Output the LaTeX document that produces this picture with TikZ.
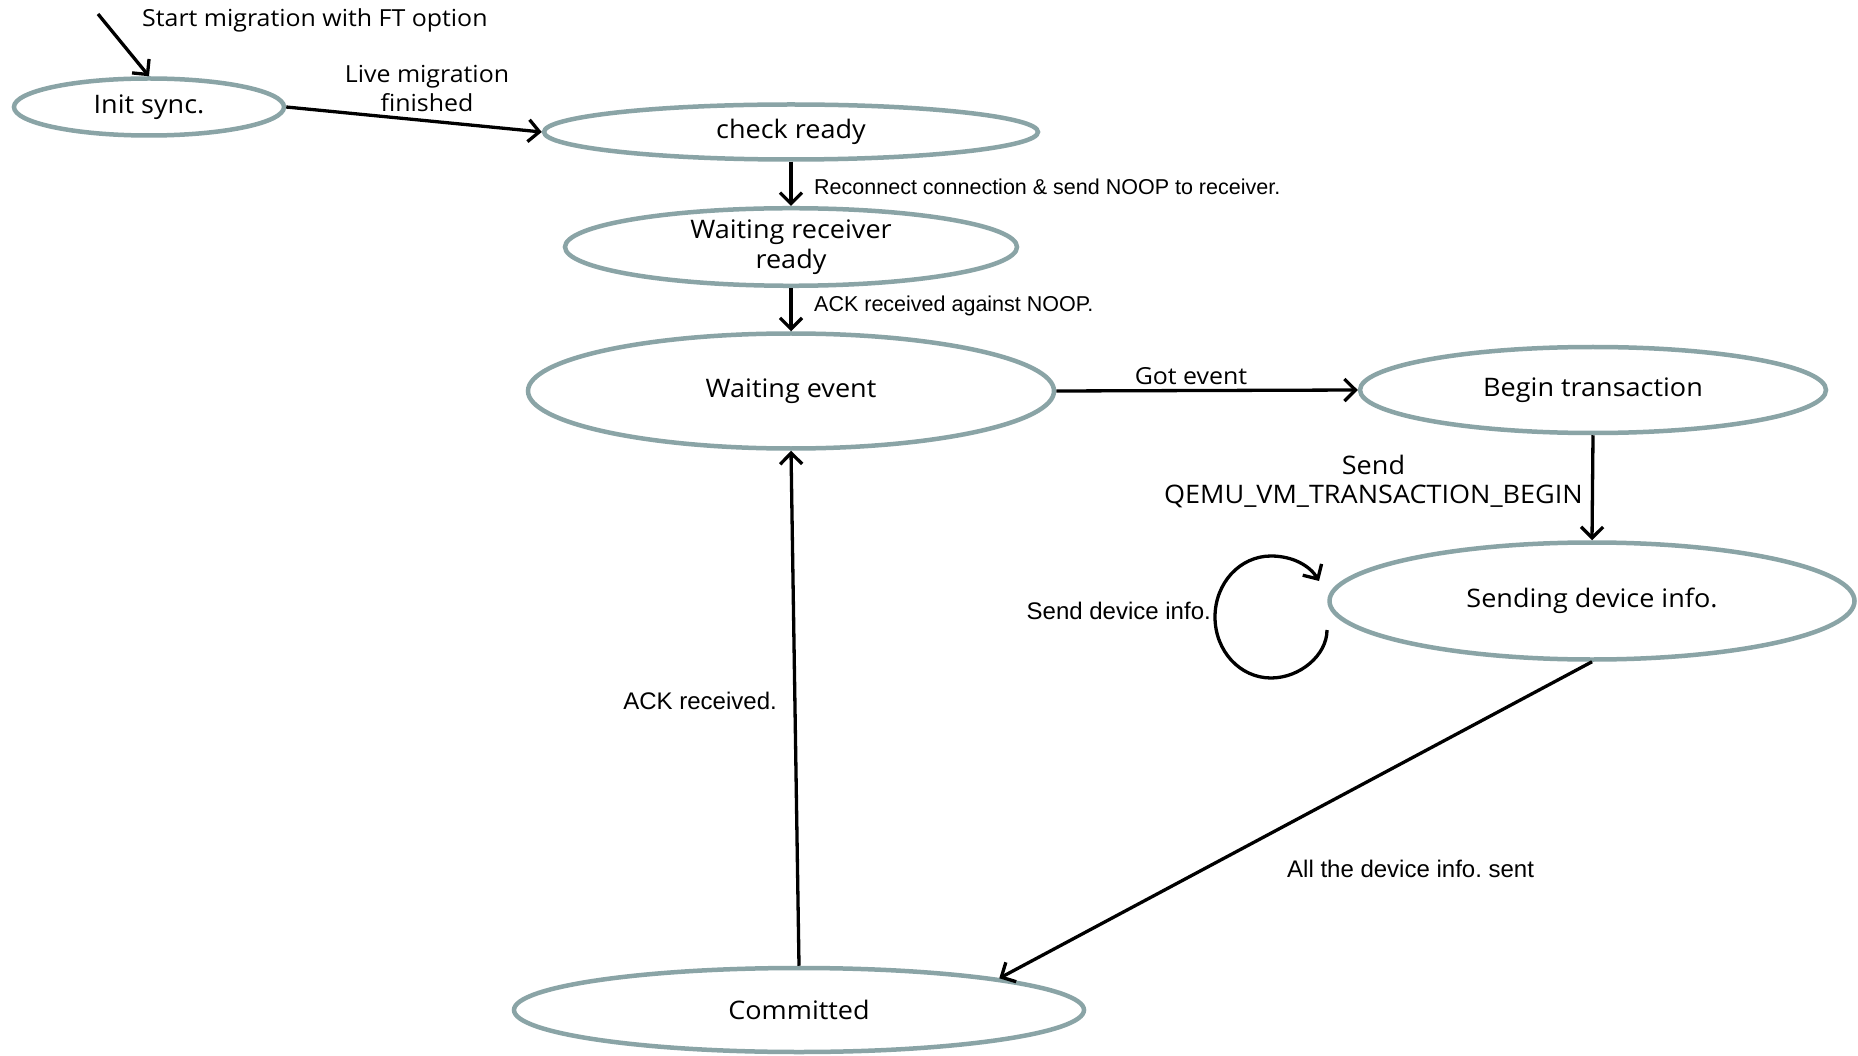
\documentclass[tikz,border=0pt]{standalone}
\usepackage{fontspec}
\setmainfont[FakeStretch=1.06]{Open Sans}
\newfontfamily\arialf{Liberation Sans}
\usetikzlibrary{shapes.geometric,arrows.meta}
\definecolor{stategray}{RGB}{138,164,166}
\frenchspacing
\begin{document}
\begin{tikzpicture}[x=1pt,y=-1pt,
  state/.style={ellipse,draw=stategray,line width=4.5pt,inner sep=0pt,
    font=\fontsize{25.5}{30}\selectfont,align=center},
  conn/.style={line width=3.3pt,-{Straight Barb[length=11pt,width=22pt,line width=3.3pt]}},
  lbl/.style={font=\fontsize{23.5}{29}\selectfont,inner sep=0pt,align=center},
  albl/.style={font=\arialf\fontsize{21.5}{24}\selectfont,inner sep=0pt},
  blbl/.style={font=\arialf\fontsize{24}{28}\selectfont,inner sep=0pt}]
\fill[white] (0,0) rectangle (1858,1056);
\useasboundingbox (0,0) rectangle (1858,1056);

\node[state,minimum width=270pt,minimum height=57pt] (init) at (149,107) {Init sync.};
\node[state,minimum width=494pt,minimum height=55pt] (check) at (791,132) {check ready};
\node[state,minimum width=452pt,minimum height=71pt] (wrr) at (791,247) {Waiting receiver\\ready};
\node[state,minimum width=526pt,minimum height=115pt] (we) at (791,391) {Waiting event};
\node[state,minimum width=466pt,minimum height=86pt] (bt) at (1593,390) {Begin transaction};
\node[state,minimum width=525pt,minimum height=117pt] (sdi) at (1592,601) {Sending device info.};
\node[state,minimum width=570pt,minimum height=84pt] (com) at (799,1010) {Committed};

\coordinate (start) at (98,14);
\draw[conn] (start) -- (init.north);
\node[lbl,anchor=west] (lstart) at (142,20) {Start migration with FT option};

\draw[conn] (init.east) -- (check.west);
\node[lbl] (llive) at (427,88) {Live migration\\finished};

\draw[conn] (check.south) -- (wrr.north);
\node[albl,anchor=west] (lrec) at (814,187) {Reconnect connection \& send NOOP to receiver.};

\draw[conn] (wrr.south) -- (we.north);
\node[albl,anchor=west] (lnoop) at (814,306) {ACK received against NOOP.};

\draw[conn] (we.east) -- (bt.west);
\node[lbl] (lgot) at (1191,376) {Got event};

\draw[conn] (bt.south) -- (sdi.north);
\node[lbl,anchor=east,font=\fontsize{25.5}{29}\selectfont] (lsend) at (1583,481) {Send\\QEMU\_VM\_TRANSACTION\_BEGIN};

\coordinate (ls) at (1327,630);
\coordinate (le) at (1319,581);
\draw[conn] (ls) .. controls (1327,655) and (1300,678) .. (1271,678)
  .. controls (1240,678) and (1215,651) .. (1215,617)
  .. controls (1215,583) and (1240,556) .. (1271,556)
  .. controls (1293,556) and (1310,566) .. (le);
\node[blbl,anchor=east] (lloop) at (1211,611) {Send device info.};

\draw[conn] (sdi.south) -- (com.9);
\node[blbl,anchor=west] (lall) at (1287,869) {All the device info. sent};

\draw[conn] (com.north) -- (we.south);
\node[blbl,anchor=east] (lack) at (777,701) {ACK received.};
\end{tikzpicture}
\end{document}
